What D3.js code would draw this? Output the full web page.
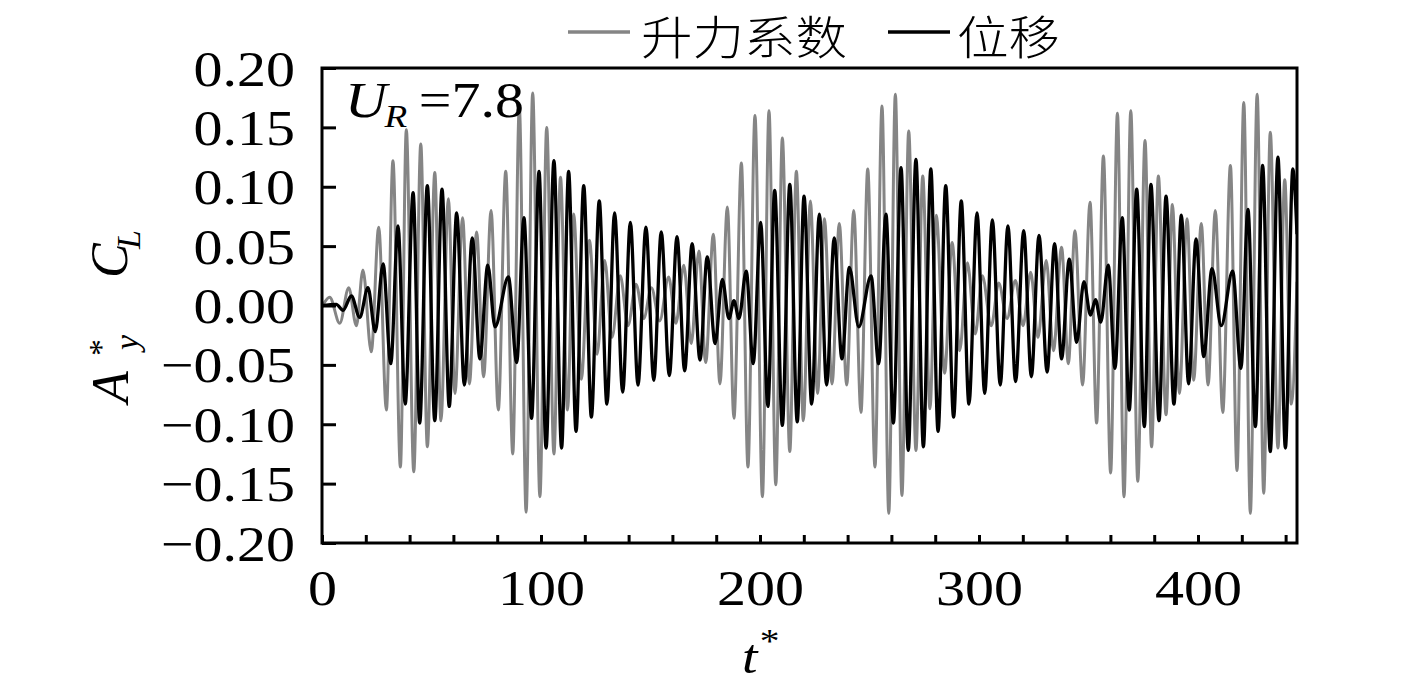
<!DOCTYPE html>
<html><head><meta charset="utf-8">
<script src="https://cdn.jsdelivr.net/npm/d3@7/dist/d3.min.js"></script>
<style>
html,body{margin:0;padding:0;background:#fff;}
svg{display:block;}
text{font-family:"Liberation Serif","Times New Roman",serif;fill:#000;}
</style></head>
<body>
<svg id="chart" width="1417" height="684"></svg>
<script>
// ---- data: extrema (time t*, value) ----
const liftT = [0,3.5,8.1,12.2,15.7,18.7,22.5,25.9,29.4,32.4,35.8,38.5,41.9,45.1,48.1,51.5,54.3,57.7,60.7,64.2,67.3,70.6,73.8,77.2,80.5,83.9,87.1,90.1,93.2,96.2,99.5,102.6,105.9,108.9,112.1,114.9,118.4,122.1,125.6,129.1,132.4,136.2,139.7,143.4,146.9,150.4,154.2,158.3,161.6,165.2,168.6,172.1,175.2,178.7,181.7,185.1,188.1,191.5,194.5,197.7,201.1,204.1,207.2,210.2,213.6,216.6,219.8,223.0,226.3,229.4,232.9,236.2,239.6,242.8,246.1,249.2,252.5,255.7,258.8,261.8,264.8,267.9,271.2,274.3,277.6,280.5,284.3,287.7,291.2,294.7,298.3,301.5,305.6,309.0,312.8,316.6,320.1,323.6,326.9,330.7,334.0,337.7,340.8,343.8,347.3,350.7,353.7,356.8,360.1,363.2,366.2,369.3,372.5,375.8,378.8,381.9,385.4,388.3,391.5,395.0,398.0,401.5,404.6,407.9,411.3,414.8,417.8,420.9,423.9,427.0,430.0,433.0,436.5,439.6,442.6,445.2];
const liftV = [-0.001,0.007,-0.015,0.015,-0.017,0.030,-0.039,0.066,-0.088,0.122,-0.136,0.148,-0.140,0.136,-0.119,0.112,-0.097,0.090,-0.074,0.074,-0.066,0.062,-0.060,0.080,-0.088,0.113,-0.125,0.167,-0.174,0.179,-0.161,0.150,-0.125,0.108,-0.088,0.077,-0.062,0.055,-0.041,0.038,-0.027,0.025,-0.017,0.018,-0.011,0.015,-0.013,0.024,-0.015,0.034,-0.032,0.046,-0.048,0.060,-0.066,0.083,-0.095,0.120,-0.136,0.160,-0.161,0.164,-0.151,0.141,-0.123,0.113,-0.097,0.088,-0.074,0.073,-0.066,0.069,-0.067,0.080,-0.090,0.115,-0.136,0.168,-0.175,0.178,-0.160,0.147,-0.122,0.109,-0.087,0.076,-0.057,0.053,-0.038,0.036,-0.024,0.025,-0.017,0.019,-0.011,0.021,-0.017,0.028,-0.027,0.038,-0.038,0.049,-0.049,0.063,-0.067,0.087,-0.099,0.126,-0.141,0.162,-0.161,0.164,-0.148,0.139,-0.119,0.109,-0.092,0.085,-0.074,0.073,-0.063,0.069,-0.067,0.080,-0.090,0.118,-0.139,0.171,-0.175,0.178,-0.158,0.146,-0.120,0.106,-0.083,0.02];

const dispT = [0,6.5,9.6,13.4,17.2,21.0,24.3,27.9,31.4,34.7,38.0,41.6,44.6,48.1,51.5,54.8,58.1,61.5,65.0,68.6,72.1,75.7,79.0,85.1,88.9,92.2,95.7,99.1,102.3,105.9,109.4,112.6,116.0,119.5,123.0,126.6,130.1,133.6,137.3,140.8,144.3,147.9,151.5,154.9,158.6,162.1,165.6,169.0,172.6,175.9,179.5,182.8,185.8,188.1,190.4,193.7,196.9,200.3,203.6,206.7,210.2,213.6,217.0,220.1,223.6,227.1,230.4,233.9,237.4,240.8,245.1,250.7,254.2,257.5,260.9,264.4,267.7,271.2,274.6,278.0,281.3,284.8,288.4,291.9,295.4,299.1,302.6,306.1,309.7,313.2,316.7,320.4,323.9,327.4,331.1,334.5,337.7,341.2,344.6,347.9,350.9,353.2,355.6,359.0,362.1,365.4,368.6,372.0,375.5,378.5,382.2,385.4,389.0,392.4,395.7,399.1,402.6,406.4,410.6,415.8,419.6,422.8,426.2,429.5,433.0,436.5,439.9,443.3,445.2];
const dispV = [0,0.001,-0.004,0.008,-0.010,0.015,-0.022,0.035,-0.049,0.067,-0.083,0.095,-0.099,0.101,-0.097,0.098,-0.085,0.078,-0.067,0.057,-0.045,0.034,-0.018,0.024,-0.048,0.074,-0.095,0.113,-0.120,0.122,-0.120,0.113,-0.106,0.101,-0.094,0.088,-0.083,0.078,-0.073,0.070,-0.067,0.066,-0.063,0.062,-0.059,0.058,-0.055,0.052,-0.046,0.041,-0.032,0.022,-0.011,0.004,-0.011,0.029,-0.049,0.070,-0.085,0.097,-0.101,0.102,-0.098,0.092,-0.083,0.077,-0.067,0.057,-0.045,0.032,-0.018,0.025,-0.049,0.077,-0.099,0.116,-0.122,0.123,-0.119,0.115,-0.106,0.101,-0.094,0.088,-0.083,0.078,-0.074,0.072,-0.067,0.067,-0.064,0.063,-0.060,0.059,-0.056,0.052,-0.045,0.039,-0.031,0.020,-0.008,0.005,-0.014,0.034,-0.053,0.074,-0.088,0.098,-0.102,0.102,-0.097,0.092,-0.083,0.076,-0.066,0.056,-0.043,0.031,-0.017,0.029,-0.053,0.081,-0.102,0.118,-0.123,0.125,-0.120,0.115,0.06];

const xTicks = [0,20,40,60,80,100,120,140,160,180,200,220,240,260,280,300,320,340,360,380,400,420,440];
const xLabels = [0,100,200,300,400];
const yTicks = [-0.20,-0.15,-0.10,-0.05,0.00,0.05,0.10,0.15,0.20];
const seriesNames = ["升力系数","位移"];
const seriesColors = ["#858585","#000000"];

// ---- layout ----
const L = 322, R = 1297, T = 68, B = 543;
const SX = 1.16; // horizontal text stretch of the reference
const FS = 50;

const svg = d3.select("#chart");
const x = d3.scaleLinear().domain([0, 445.2]).range([L, R]);
const y = d3.scaleLinear().domain([-0.2, 0.2]).range([B, T]);

svg.append("defs").append("clipPath").attr("id","clip")
  .append("rect").attr("x",L).attr("y",T).attr("width",R-L).attr("height",B-T);

const line = d3.line().x(d=>x(d[0])).y(d=>y(d[1])).curve(d3.curveMonotoneX);
const lift = liftT.map((t,i)=>[t,liftV[i]]);
const disp = dispT.map((t,i)=>[t,dispV[i]]);

const g = svg.append("g").attr("clip-path","url(#clip)");
g.append("path").datum(lift).attr("d",line).attr("fill","none")
  .attr("stroke",seriesColors[0]).attr("stroke-width",3).attr("stroke-linejoin","round");
g.append("path").datum(disp).attr("d",line).attr("fill","none")
  .attr("stroke",seriesColors[1]).attr("stroke-width",3.3).attr("stroke-linejoin","round");

// axes
const yAxis = d3.axisLeft(y).tickValues(yTicks).tickSize(-14).tickPadding(0)
  .tickFormat(d=>d3.format(".2f")(d).replace("-", "\u2212"));
const ya = svg.append("g").attr("transform",`translate(${L},0)`).call(yAxis);
ya.select(".domain").remove();
ya.selectAll(".tick line").attr("stroke","#000").attr("stroke-width",3);
ya.selectAll(".tick text").attr("x",-27/SX).attr("dy","0.34em")
  .attr("transform",`scale(${SX},1)`).style("font-size",FS+"px").style("font-family","'Liberation Serif',serif");

const xAxis = d3.axisBottom(x).tickValues(xTicks).tickSize(-8).tickPadding(0)
  .tickFormat(d=>xLabels.includes(d)?String(d):"");
const xa = svg.append("g").attr("transform",`translate(0,${B})`).call(xAxis);
xa.select(".domain").remove();
xa.selectAll(".tick line").attr("stroke","#000").attr("stroke-width",3);
xa.selectAll(".tick text").attr("y",27).attr("dy","0.71em")
  .attr("transform",`scale(${SX},1)`).style("font-size",FS+"px").style("font-family","'Liberation Serif',serif");

// frame
svg.append("rect").attr("x",L).attr("y",T).attr("width",R-L).attr("height",B-T)
  .attr("fill","none").attr("stroke","#000").attr("stroke-width",3);

function stext(px, py, sx){
  return svg.append("g").attr("transform",`translate(${px},${py}) scale(${sx},1)`).append("text");
}

// U_R = 7.8
const ur = stext(345, 117, SX).style("font-size",FS+"px");
ur.append("tspan").text("U").style("font-style","italic");
ur.append("tspan").text("R").style("font-style","italic").style("font-size","32px").attr("dy",10).attr("dx",-2);
ur.append("tspan").text("=7.8").attr("dy",-10).attr("dx",10);

// x title t*
const xt = stext(742, 673, SX).style("font-size","48px");
xt.append("tspan").text("t").style("font-style","italic");
xt.append("tspan").text("*").style("font-size","34px").attr("dy",-21).attr("dx",2);

// y title A*y  CL (rotated pieces)
function rtext(px, py, str, fs, italic){
  return svg.append("text").attr("transform",`translate(${px},${py}) rotate(-90)`)
    .text(str).style("font-size",fs+"px").style("font-style",italic?"italic":"normal");
}
rtext(128, 403, "A", 52, true);
rtext(112, 356, "*", 34, false);
rtext(138, 350, "y", 34, true);
rtext(127, 278, "C", 52, true);
rtext(140, 249, "L", 34, true);

// legend
const lg = svg.append("g");
const legendItems = [
  {x1:568,x2:630,tx:641,name:seriesNames[0],color:seriesColors[0]},
  {x1:888,x2:950,tx:957,name:seriesNames[1],color:seriesColors[1]}
];
legendItems.forEach(it=>{
  lg.append("line").attr("x1",it.x1).attr("x2",it.x2).attr("y1",32).attr("y2",32)
    .attr("stroke",it.color).attr("stroke-width",3.5);
  lg.append("g").attr("transform",`translate(${it.tx},54) scale(1.12,1)`).append("text")
    .text(it.name).style("font-size","46px").style("font-family","'Noto Sans CJK SC',sans-serif").style("font-weight","300");
});
</script>
</body></html>
